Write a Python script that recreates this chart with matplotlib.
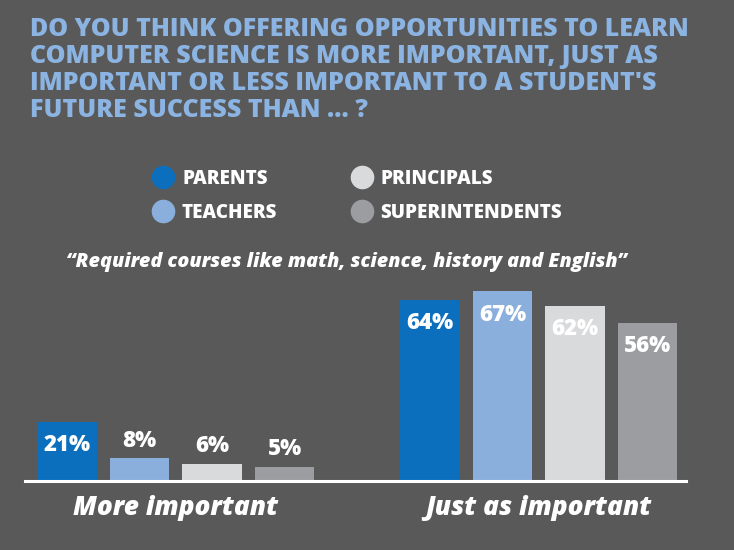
import matplotlib
matplotlib.use("Agg")
import matplotlib.pyplot as plt
from matplotlib.lines import Line2D
import numpy as np

# data
groups = ["More important", "Just as important"]
series = ["PARENTS", "TEACHERS", "PRINCIPALS", "SUPERINTENDENTS"]
more_important = [21, 8, 6, 5]
just_as_important = [64, 67, 62, 56]
colors = ["#0b6fbe", "#8aafdc", "#d9dadc", "#9c9da1"]

title = ("DO YOU THINK OFFERING OPPORTUNITIES TO LEARN\n"
         "COMPUTER SCIENCE IS MORE IMPORTANT, JUST AS\n"
         "IMPORTANT OR LESS IMPORTANT TO A STUDENT'S\n"
         "FUTURE SUCCESS THAN ... ?")
subtitle = "\u201cRequired courses like math, science, history and English\u201d"

bg = "#595959"
font = ["Open Sans", "DejaVu Sans"]
plt.rcParams["font.family"] = font
heavy = 800

W, H = 734, 550
fig = plt.figure(figsize=(W / 100, H / 100), dpi=100, facecolor=bg)

# axes placed in pixels: left 25, right 686, baseline y=481, top y=270
ax = fig.add_axes([25 / W, (H - 481) / H, 661 / W, 211 / H])
ax.set_facecolor(bg)
ax.set_ylim(0, 211 / 2.83)

starts = [0, 5]
width = 0.82
for g, vals in enumerate([more_important, just_as_important]):
    x = starts[g] + np.arange(len(vals))
    bars = ax.bar(x, vals, width=width, color=colors, zorder=2)
    for b, v in zip(bars, vals):
        cx = b.get_x() + b.get_width() / 2
        if v >= 20:
            ax.annotate(f"{v}%", (cx, v), xytext=(0, -8), textcoords="offset points",
                        ha="center", va="top", color="white", fontsize=16,
                        fontweight=heavy)
        else:
            ax.annotate(f"{v}%", (cx, v), xytext=(0, 4), textcoords="offset points",
                        ha="center", va="bottom", color="white", fontsize=16,
                        fontweight=heavy)

ax.set_xlim(-0.579, 8.53)
ax.set_xticks([starts[0] + 1.5, starts[1] + 1.5])
ax.set_xticklabels(groups, fontsize=18.9, fontweight=heavy, style="italic", color="white")
ax.tick_params(axis="x", length=0, pad=10)
ax.set_yticks([])
for s in ["top", "left", "right"]:
    ax.spines[s].set_visible(False)
ax.spines["bottom"].set_color("white")
ax.spines["bottom"].set_linewidth(2.2)

fig.text(30 / W, 1 - 17 / H, title, ha="left", va="top", color="#8cb4e3",
         fontsize=18, fontweight=heavy, linespacing=1.11)

handles = [Line2D([], [], marker="o", ls="", ms=16, color=c) for c in colors]
leg = fig.legend(handles, series, ncol=2, frameon=False, loc="upper left",
                 bbox_to_anchor=(137 / W, 1 - 152 / H), handlelength=1.0,
                 handletextpad=0.5, columnspacing=4.0, labelspacing=0.75,
                 prop={"family": font, "weight": heavy, "size": 13.5})
for t in leg.get_texts():
    t.set_color("white")

fig.text(346 / W, 1 - 262 / H, subtitle, ha="center", va="center", color="white",
         fontsize=14.2, fontweight=heavy, style="italic")

fig.savefig("out.png", dpi=100, facecolor=bg)
